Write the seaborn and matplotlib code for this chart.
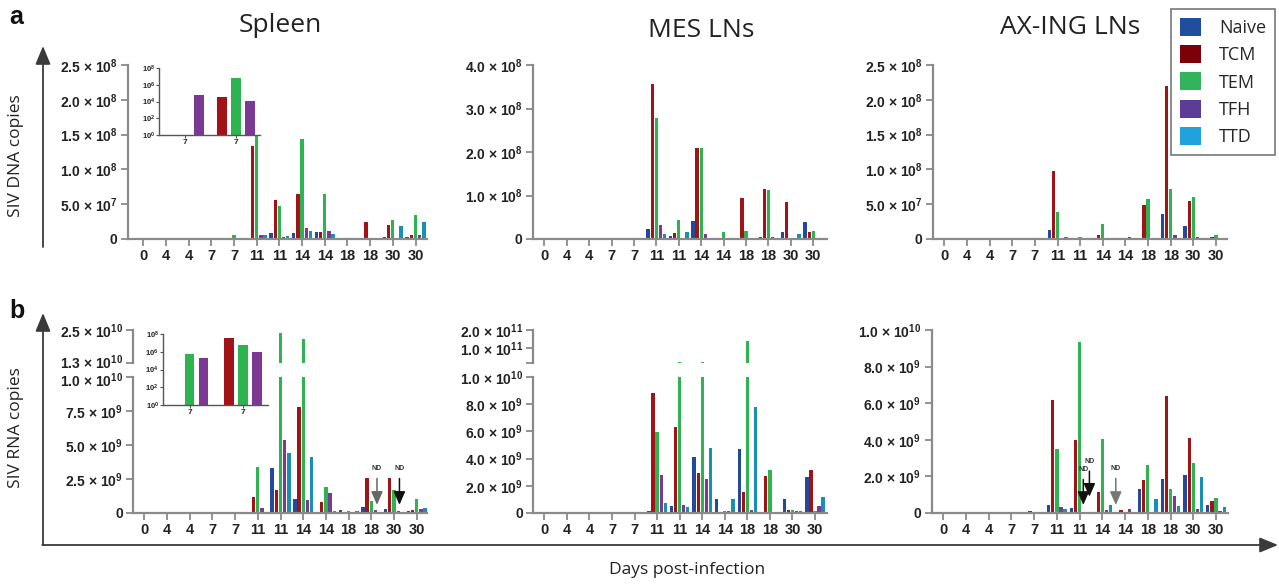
import matplotlib
matplotlib.use('Agg')
import matplotlib.pyplot as plt
import matplotlib.transforms as mtransforms
import numpy as np
import pandas as pd
import seaborn as sns
from matplotlib.patches import Patch

# ---------------- data ----------------
day_labels = ['0', '4', '4', '7', '7', '11', '11', '14', '14', '18', '18', '30', '30']
animal_ids = [f'A{i}' for i in range(len(day_labels))]
cell_types = ['Naive', 'TCM', 'TEM', 'TFH', 'TTD']

# (a) SIV DNA copies
spleen_dna_naive = [0, 0, 0, 0, 0, 0, 8e6, 8e6, 1.05e7, 2e6, 0, 3.3e6, 3e6]
spleen_dna_tcm = [0, 0, 0, 0, 0, 1.33e8, 5.6e7, 6.4e7, 1.05e7, 0, 2.5e7, 2.05e7, 6e6]
spleen_dna_tem = [0, 0, 0, 0, 6e6, 1.5e8, 4.8e7, 1.44e8, 6.4e7, 0, 0, 2.8e7, 3.5e7]
spleen_dna_tfh = [0, 0, 0, 0, 0, 6e6, 3e6, 1.6e7, 1.2e7, 0, 2e6, 2e6, 6e6]
spleen_dna_ttd = [0, 0, 0, 0, 0, 6e6, 5e6, 1.2e7, 7.6e6, 1e6, 0, 1.8e7, 2.4e7]

mes_dna_naive = [0, 0, 0, 0, 0, 2.4e7, 7.6e6, 4.2e7, 0, 3e6, 5.4e6, 1.7e7, 4.0e7]
mes_dna_tcm = [0, 0, 0, 0, 0, 3.56e8, 1.45e7, 2.1e8, 0, 9.5e7, 1.15e8, 8.6e7, 1.7e7]
mes_dna_tem = [0, 0, 0, 0, 0, 2.78e8, 4.4e7, 2.1e8, 1.7e7, 1.9e7, 1.13e8, 3e6, 1.9e7]
mes_dna_tfh = [0, 0, 0, 0, 0, 3.3e7, 0, 1.2e7, 0, 0, 5.4e6, 3e6, 0]
mes_dna_ttd = [0, 0, 0, 0, 0, 1.2e7, 1.7e7, 0, 0, 0, 0, 1.2e7, 0]

axing_dna_naive = [0, 0, 0, 0, 0, 1.34e7, 0, 0, 0, 0, 3.63e7, 1.9e7, 0]
axing_dna_tcm = [0, 0, 0, 0, 0, 9.8e7, 5e5, 6.2e6, 0, 4.9e7, 2.2e8, 5.5e7, 3.3e6]
axing_dna_tem = [0, 0, 0, 0, 0, 3.9e7, 3.3e6, 2.2e7, 0, 5.8e7, 7.2e7, 6.1e7, 6.2e6]
axing_dna_tfh = [0, 0, 0, 0, 0, 2e6, 5e5, 0, 3.3e6, 0, 6.2e6, 3.3e6, 2e6]
axing_dna_ttd = [0, 0, 0, 0, 0, 3.3e6, 0, 2e6, 0, 0, 0, 2e6, 2e6]

# (b) SIV RNA copies
spleen_rna_naive = [0, 0, 0, 0, 0, 0, 3.3e9, 1.01e9, 0, 2e8, 4.2e8, 2.7e8, 1.2e8]
spleen_rna_tcm = [0, 0, 0, 0, 7e7, 1.16e9, 1.67e9, 7.8e9, 7.9e8, 5e7, 2.56e9, 2.56e9, 2e8]
spleen_rna_tem = [0, 0, 0, 0, 0, 3.37e9, 2.38e10, 2.18e10, 1.9e9, 1.2e8, 8.6e8, 1.67e9, 1.01e9]
spleen_rna_tfh = [0, 0, 0, 0, 0, 3.4e8, 5.37e9, 9.4e8, 1.45e9, 0, 2e8, 1.2e8, 2.7e8]
spleen_rna_ttd = [0, 0, 0, 0, 0, 0, 4.41e9, 4.11e9, 1.2e8, 1.2e8, 0, 0, 3.4e8]

mes_rna_naive = [0, 0, 0, 0, 0, 1.2e8, 4.9e8, 4.11e9, 1.01e9, 4.7e9, 5e7, 1.01e9, 2.64e9]
mes_rna_tcm = [0, 0, 0, 0, 0, 8.84e9, 6.33e9, 2.93e9, 0, 1.53e9, 2.7e9, 2e8, 3.15e9]
mes_rna_tem = [0, 0, 0, 0, 0, 5.96e9, 2.1e10, 2.1e10, 1.2e8, 1.4e11, 3.15e9, 2e8, 1.2e8]
mes_rna_tfh = [0, 0, 0, 0, 0, 2.78e9, 5.7e8, 2.49e9, 1.2e8, 2e8, 5e7, 1.2e8, 4.9e8]
mes_rna_ttd = [0, 0, 0, 0, 0, 7.1e8, 4.2e8, 4.78e9, 1.01e9, 7.8e9, 5e7, 1.2e8, 1.16e9]

axing_rna_naive = [0, 0, 0, 0, 2e7, 4.2e8, 2.6e8, 4e7, 0, 1.3e9, 1.84e9, 2.06e9, 4.2e8]
axing_rna_tcm = [0, 0, 0, 0, 9e7, 6.17e9, 3.98e9, 1.13e9, 1.5e8, 1.79e9, 6.39e9, 4.09e9, 6.4e8]
axing_rna_tem = [0, 0, 0, 0, 5e7, 3.49e9, 9.34e9, 4.03e9, 5e7, 2.61e9, 1.3e9, 2.72e9, 8e8]
axing_rna_tfh = [0, 0, 0, 0, 0, 3.1e8, 0, 1.5e8, 2e8, 4e7, 9.1e8, 2e8, 9e7]
axing_rna_ttd = [0, 0, 0, 0, 0, 2e8, 0, 4.2e8, 4e7, 7.5e8, 3.6e8, 1.95e9, 3.1e8]

# insets (day-7 animals, log scale); nan = not shown
inset_labels = ['7', '7']
inset_ids = ['I0', 'I1']
spleen_dna_inset_naive = [np.nan, np.nan]
spleen_dna_inset_tcm = [np.nan, 3.6e4]
spleen_dna_inset_tem = [np.nan, 6.9e6]
spleen_dna_inset_tfh = [6.3e4, 1.2e4]
spleen_dna_inset_ttd = [np.nan, np.nan]

spleen_rna_inset_naive = [np.nan, np.nan]
spleen_rna_inset_tcm = [np.nan, 3.5e7]
spleen_rna_inset_tem = [5.6e5, 5.9e6]
spleen_rna_inset_tfh = [2.0e5, 9.5e5]
spleen_rna_inset_ttd = [np.nan, np.nan]

# axis ticks
top_ticks_25 = [0, 5e7, 1e8, 1.5e8, 2e8, 2.5e8]
top_ticks_40 = [0, 1e8, 2e8, 3e8, 4e8]
spleen_rna_low_ticks = [0, 2.5e9, 5e9, 7.5e9, 1e10]
spleen_rna_up_ticks = [1.3e10, 2.5e10]
mes_rna_low_ticks = [0, 2e9, 4e9, 6e9, 8e9, 1e10]
mes_rna_up_ticks = [1e11, 2e11]
axing_rna_ticks = [0, 2e9, 4e9, 6e9, 8e9, 1e10]
inset_ticks = [1e0, 1e2, 1e4, 1e6, 1e8]

# ND markers: (animal index, offset within group, label y, arrow tip y, colour)
spleen_rna_nd = [(10, 0.25, 3.24e9, 0.6e9, '#666666'), (11, 0.24, 3.24e9, 0.6e9, '#111111')]
axing_rna_nd = [(6, 0.16, 2.35e9, 0.44e9, '#111111'), (6, 0.43, 2.81e9, 0.89e9, '#111111'),
                (8, -0.41, 2.41e9, 0.44e9, '#777777')]

bar_palette = {'Naive': '#22499b', 'TCM': '#a11219', 'TEM': '#2db350',
               'TFH': '#7c3994', 'TTD': '#1791b3'}
legend_colors = {'Naive': '#1f4e9f', 'TCM': '#7d0008', 'TEM': '#33b35b',
                 'TFH': '#5b3c96', 'TTD': '#20a2dc'}

# ---------------- helpers ----------------
sns.set_theme(style='ticks')
plt.rcParams['font.family'] = ['Liberation Sans', 'DejaVu Sans']
plt.rcParams['mathtext.default'] = 'regular'

W, H = 1279, 584
fig = plt.figure(figsize=(W / 100, H / 100), dpi=100)
SPINE = '#8a8a8a'
TXT = '#222222'


def rect(x0, x1, ytop, ybot):
    return [x0 / W, 1 - ybot / H, (x1 - x0) / W, (ybot - ytop) / H]


def sci(v):
    if v == 0:
        return '0'
    e = int(np.floor(np.log10(v) + 1e-9))
    m = v / 10 ** e
    return f'{m:.1f} × 10$^{{{e}}}$'


def long_df(series, ids):
    rows = []
    for ct in cell_types:
        for i, v in enumerate(series[ct]):
            if np.isfinite(v):
                rows.append((ids[i], ct, v))
    return pd.DataFrame(rows, columns=['animal', 'cell', 'copies'])


def draw_bars(ax, df, order, width, gap):
    sns.barplot(data=df, x='animal', y='copies', hue='cell', order=order,
                hue_order=cell_types, palette=bar_palette, width=width, gap=gap,
                errorbar=None, legend=False, saturation=1, linewidth=0, ax=ax)
    ax.set_xlabel('')
    ax.set_ylabel('')
    ax.patch.set_alpha(0)


def style_axis(ax, xlim, ylim, yticks, show_x=True, ylabsize=10):
    ax.set_xlim(*xlim)
    ax.set_ylim(*ylim)
    ax.set_yticks(yticks)
    ax.set_yticklabels([sci(v) for v in yticks], fontweight='bold', fontsize=ylabsize, color=TXT)
    for s in ['top', 'right']:
        ax.spines[s].set_visible(False)
    for s in ['left', 'bottom']:
        ax.spines[s].set_color(SPINE)
        ax.spines[s].set_linewidth(1.6)
    ax.tick_params(axis='both', colors=SPINE, length=5, width=1.3, direction='out', pad=2.5)
    ax.tick_params(labelcolor=TXT)
    if show_x:
        ax.set_xticks(range(len(day_labels)))
        ax.set_xticklabels(day_labels, fontweight='bold', fontsize=10.5, color=TXT)
    else:
        ax.spines['bottom'].set_visible(False)
        ax.set_xticks([])


def shift_label(label, dy_px):
    label.set_transform(label.get_transform() +
                        mtransforms.ScaledTranslation(0, dy_px / 100, fig.dpi_scale_trans))


def panel_xlim(x0, x1, xf, xl):
    sp = (xl - xf) / 12
    return ((x0 - xf) / sp, 12 + (x1 - xl) / sp)


def series(n, t, e, f, d):
    return {'Naive': n, 'TCM': t, 'TEM': e, 'TFH': f, 'TTD': d}


def add_nd(ax, marks):
    for idx, off, ty, tip, col in marks:
        ax.annotate('ND', xy=(idx + off, tip), xytext=(idx + off, ty), ha='center', va='center',
                    fontsize=5, fontweight='bold', color='#333333',
                    arrowprops=dict(arrowstyle='-|>,head_length=0.8,head_width=0.35', color=col,
                                    lw=1.1, mutation_scale=10, shrinkA=2, shrinkB=0))


def draw_inset(px, ser):
    x0, x1, ytop, ybot, xf, xl = px
    ax = fig.add_axes(rect(x0, x1, ytop, ybot))
    df = long_df(ser, inset_ids)
    sp = xl - xf
    draw_bars(ax, df, inset_ids, 14 * 5 / sp, 0.29)
    ax.patch.set_alpha(1)
    ax.set_facecolor('white')
    ax.set_yscale('log')
    ax.set_ylim(1, 1e8)
    ax.set_xlim((x0 - xf) / sp, 1 + (x1 - xl) / sp)
    ax.set_yticks(inset_ticks)
    ax.set_yticklabels([f'10$^{{{int(np.log10(v))}}}$' for v in inset_ticks],
                       fontsize=5.5, fontweight='bold', color=TXT)
    ax.minorticks_off()
    ax.set_xticks([0, 1])
    ax.set_xticklabels(inset_labels, fontsize=6, fontweight='bold', color=TXT)
    for s in ['top', 'right']:
        ax.spines[s].set_visible(False)
    for s in ['left', 'bottom']:
        ax.spines[s].set_color('#555555')
        ax.spines[s].set_linewidth(1.0)
    ax.tick_params(axis='both', colors='#555555', length=2, width=0.8, pad=1)
    ax.tick_params(labelcolor=TXT)
    return ax


# ---------------- overlay (outer arrows, titles) ----------------
ov = fig.add_axes([0, 0, 1, 1])
ov.set_xlim(0, W)
ov.set_ylim(H, 0)
ov.axis('off')
arrow_kw = dict(arrowstyle='-|>,head_length=0.8,head_width=0.33', color='#3a3a3a', lw=1.3,
                mutation_scale=14, shrinkA=0, shrinkB=0)
ov.annotate('', xy=(43, 46), xytext=(43, 247), arrowprops=arrow_kw)
ov.annotate('', xy=(43, 313), xytext=(43, 545), arrowprops=arrow_kw)
ov.annotate('', xy=(1278, 545), xytext=(42.3, 545), arrowprops=arrow_kw)

ov.text(16, 17, 'a', fontsize=18, fontweight='bold', ha='center', va='center', color='#111')
ov.text(17, 311, 'b', fontsize=18, fontweight='bold', ha='center', va='center', color='#111')
title_kw = dict(fontsize=19, family=['Open Sans', 'DejaVu Sans'], ha='center', va='baseline', color='#222')
ov.text(280, 32, 'Spleen', **title_kw)
ov.text(701, 37, 'MES LNs', **title_kw)
ov.text(1070, 34, 'AX-ING LNs', **title_kw)
lab_kw = dict(fontsize=12.5, family=['Open Sans', 'DejaVu Sans'], color='#222')
ov.text(16, 156, 'SIV DNA copies', rotation=90, ha='center', va='center', **lab_kw)
ov.text(16, 428, 'SIV RNA copies', rotation=90, ha='center', va='center', **lab_kw)
ov.text(687, 570, 'Days post-infection', ha='center', va='center', **lab_kw)

# ---------------- top row: DNA ----------------
top_panels = [
    ((127.7, 427, 143.3, 415.5), series(spleen_dna_naive, spleen_dna_tcm, spleen_dna_tem, spleen_dna_tfh, spleen_dna_ttd), top_ticks_25),
    ((533, 827, 544.3, 813.3), series(mes_dna_naive, mes_dna_tcm, mes_dna_tem, mes_dna_tfh, mes_dna_ttd), top_ticks_40),
    ((932.7, 1226.7, 944.3, 1216), series(axing_dna_naive, axing_dna_tcm, axing_dna_tem, axing_dna_tfh, axing_dna_ttd), top_ticks_25),
]
for (x0, x1, xf, xl), ser, ticks in top_panels:
    ax = fig.add_axes(rect(x0, x1, 65, 239))
    draw_bars(ax, long_df(ser, animal_ids), animal_ids, 0.92, 0.2)
    style_axis(ax, panel_xlim(x0, x1, xf, xl), (0, ticks[-1]), ticks)

# ---------------- bottom row: RNA ----------------
# spleen (broken axis)
x0, x1, xf, xl = 133.3, 427, 144.3, 416.7
ser = series(spleen_rna_naive, spleen_rna_tcm, spleen_rna_tem, spleen_rna_tfh, spleen_rna_ttd)
df = long_df(ser, animal_ids)
axl = fig.add_axes(rect(x0, x1, 377, 513))
draw_bars(axl, df, animal_ids, 0.92, 0.2)
style_axis(axl, panel_xlim(x0, x1, xf, xl), (0, spleen_rna_low_ticks[-1]), spleen_rna_low_ticks)
add_nd(axl, spleen_rna_nd)
axu = fig.add_axes(rect(x0, x1, 330, 363.3))
draw_bars(axu, df, animal_ids, 0.92, 0.2)
style_axis(axu, panel_xlim(x0, x1, xf, xl), (spleen_rna_up_ticks[0], spleen_rna_up_ticks[-1]),
           spleen_rna_up_ticks, show_x=False)
shift_label(axu.get_yticklabels()[0], 2.0)
shift_label(axl.get_yticklabels()[-1], -2.0)

# MES (broken axis)
x0, x1, xf, xl = 533.3, 827, 544.3, 815
ser = series(mes_rna_naive, mes_rna_tcm, mes_rna_tem, mes_rna_tfh, mes_rna_ttd)
df = long_df(ser, animal_ids)
axl = fig.add_axes(rect(x0, x1, 377, 513))
draw_bars(axl, df, animal_ids, 0.9, 0.2)
style_axis(axl, panel_xlim(x0, x1, xf, xl), (0, mes_rna_low_ticks[-1]), mes_rna_low_ticks)
axu = fig.add_axes(rect(x0, x1, 330, 363.3))
draw_bars(axu, df, animal_ids, 0.9, 0.2)
style_axis(axu, panel_xlim(x0, x1, xf, xl), (1.2e10, mes_rna_up_ticks[-1]), mes_rna_up_ticks, show_x=False)
axu.set_yticks([1.2e10], minor=True)
axu.tick_params(which='minor', length=5, width=1.3, colors=SPINE, left=True)

# AX-ING
x0, x1, xf, xl = 931.7, 1228, 943.3, 1216
ser = series(axing_rna_naive, axing_rna_tcm, axing_rna_tem, axing_rna_tfh, axing_rna_ttd)
ax = fig.add_axes(rect(x0, x1, 330, 513))
draw_bars(ax, long_df(ser, animal_ids), animal_ids, 0.9, 0.2)
style_axis(ax, panel_xlim(x0, x1, xf, xl), (0, axing_rna_ticks[-1]), axing_rna_ticks)
add_nd(ax, axing_rna_nd)

# ---------------- insets ----------------
draw_inset((159.3, 260, 68, 135, 185, 235.7),
           series(spleen_dna_inset_naive, spleen_dna_inset_tcm, spleen_dna_inset_tem,
                  spleen_dna_inset_tfh, spleen_dna_inset_ttd))
draw_inset((163, 268, 334, 405, 189.5, 243),
           series(spleen_rna_inset_naive, spleen_rna_inset_tcm, spleen_rna_inset_tem,
                  spleen_rna_inset_tfh, spleen_rna_inset_ttd))

# ---------------- legend ----------------
handles = [Patch(facecolor=legend_colors[c], edgecolor='none', label=c) for c in cell_types]
leg = fig.legend(handles=handles, loc='upper left', bbox_to_anchor=(1171 / W, 1 - 9 / H),
                 borderaxespad=0, frameon=True, fancybox=False, edgecolor='#555555',
                 prop={'family': ['Open Sans', 'DejaVu Sans'], 'size': 13},
                 handlelength=1.15, handleheight=1.15, handletextpad=1.0,
                 labelspacing=0.45, borderpad=0.5)
leg.get_frame().set_linewidth(1.2)

fig.savefig('out.png', dpi=100)
